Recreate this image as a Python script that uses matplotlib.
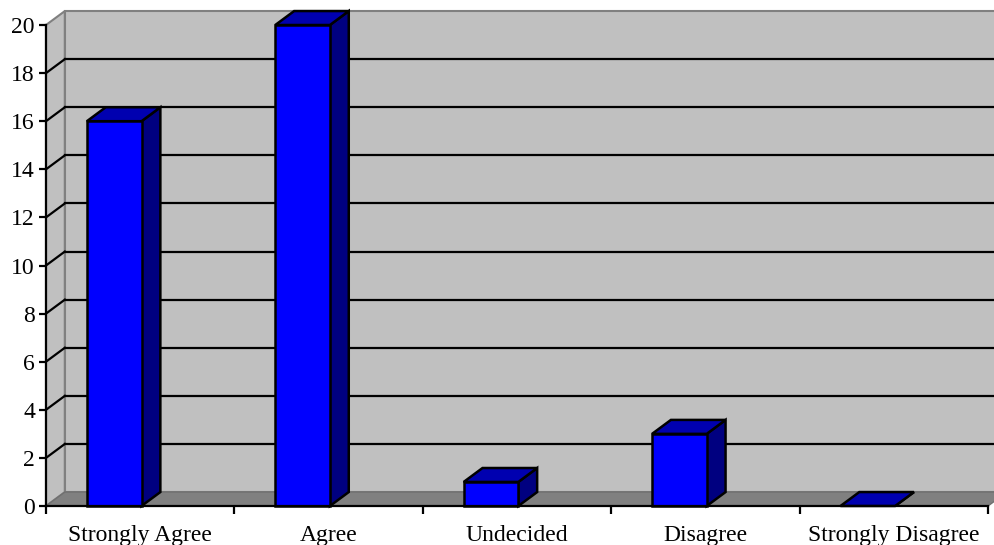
import matplotlib
matplotlib.use('Agg')
import matplotlib.pyplot as plt
from matplotlib.patches import Polygon
import numpy as np

# survey responses
categories = ['Strongly Agree', 'Agree', 'Undecided', 'Disagree', 'Strongly Disagree']
counts = [16, 20, 1, 3, 0]
y_ticks = list(range(0, 21, 2))

# colours of the pseudo-3D look
front_col = '#0000ff'
top_col = '#0000b0'
side_col = '#000080'
wall_col = '#c0c0c0'
floor_col = '#808080'

plt.rcParams['font.family'] = ['Liberation Serif', 'DejaVu Serif']

fig = plt.figure(figsize=(9.95, 5.45), dpi=100)
ax = fig.add_axes([46 / 995, 39 / 545, 942 / 995, 481 / 545])
n = len(categories)
ymax = 20
ax.set_xlim(0, n)
ax.set_ylim(0, ymax)
ax.patch.set_visible(False)

# depth offset in data units
dx, dy = 0.1, 0.58

# side wall, back wall, floor
ax.add_patch(Polygon([(0, 0), (dx, dy), (dx, ymax + dy), (0, ymax)],
                     closed=True, fc=wall_col, ec='#808080', lw=1.5, clip_on=False, zorder=0))
ax.add_patch(Polygon([(dx, dy), (n + dx + 0.2, dy), (n + dx + 0.2, ymax + dy), (dx, ymax + dy)],
                     closed=True, fc=wall_col, ec='#808080', lw=1.5, clip_on=False, zorder=0))
ax.add_patch(Polygon([(0, 0), (n, 0), (n + dx, dy), (dx, dy)],
                     closed=True, fc=floor_col, ec='#707070', lw=1.0, clip_on=False, zorder=0.5))

# gridlines on both walls
for v in y_ticks[1:-1]:
    ax.plot([dx, n + dx + 0.2], [v + dy, v + dy], color='black', lw=1.6, clip_on=False, zorder=1)
    ax.plot([0, dx], [v, v + dy], color='black', lw=1.6, clip_on=False, zorder=1)

# bars: front face, top, side
bar_left = 0.217
bar_w = 0.29
for i, c in enumerate(counts):
    x0 = i + bar_left
    x1 = x0 + bar_w
    kw = dict(closed=True, ec='black', lw=1.8, joinstyle='miter', clip_on=False, zorder=3)
    ax.add_patch(Polygon([(x1, 0), (x1 + dx, dy), (x1 + dx, c + dy), (x1, c)], fc=side_col, **kw))
    ax.add_patch(Polygon([(x0, c), (x1, c), (x1 + dx, c + dy), (x0 + dx, c + dy)], fc=top_col, **kw))
    if c > 0:
        ax.add_patch(Polygon([(x0, 0), (x1, 0), (x1, c), (x0, c)], fc=front_col, **kw))

# axes styling
for s in ['top', 'right']:
    ax.spines[s].set_visible(False)
for s in ['left', 'bottom']:
    ax.spines[s].set_linewidth(1.6)
    ax.spines[s].set_zorder(4)

ax.set_yticks(y_ticks)
ax.tick_params(axis='y', length=5, width=1.6, pad=3, labelsize=17)
ax.set_xticks(np.arange(n + 1))
ax.set_xticklabels([])
ax.set_xticks(np.arange(n) + 0.5, minor=True)
ax.set_xticklabels(categories, minor=True)
ax.tick_params(axis='x', which='major', length=6, width=1.6, direction='out')
ax.tick_params(axis='x', which='minor', length=0, pad=14, labelsize=17)

fig.savefig('out.png', dpi=100)
